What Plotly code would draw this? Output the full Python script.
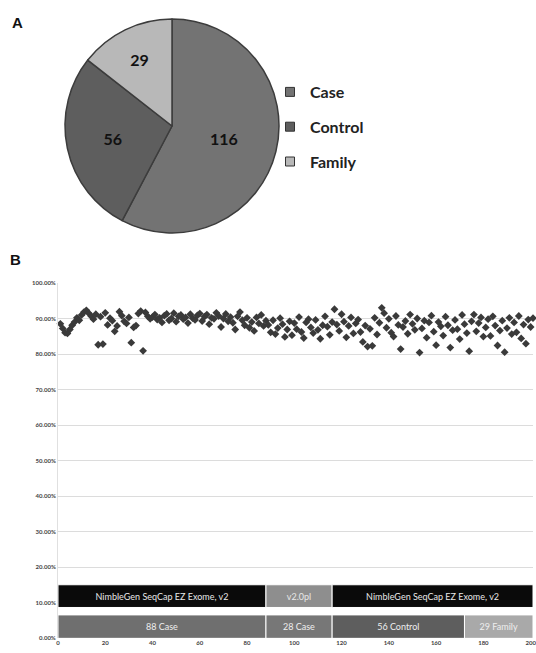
import plotly.graph_objects as go

W, H = 536, 653

# ---------------- Panel A data ----------------
pie_labels = ["Case", "Control", "Family"]
pie_values = [116, 56, 29]
pie_colors = ["#737373", "#5e5e5e", "#b8b8b8"]

# ---------------- Panel B data ----------------
coverage_pct = [
    88.5, 87.2, 86.0, 85.8, 86.9, 88.1, 89.0, 90.2, 89.5, 91.0,
    91.8, 92.3, 91.5, 90.7, 89.8, 91.2, 82.6, 90.5, 82.8, 91.6,
    88.2, 90.1, 89.4, 86.4, 87.9, 91.9, 90.8, 89.2, 88.6, 90.3,
    83.2, 87.5, 88.0, 91.4, 92.1, 80.9, 91.7, 90.6, 89.9, 90.4,
    91.1, 89.7, 90.2, 88.9, 90.8, 91.3, 89.5, 90.0, 91.5, 89.1,
    90.6, 91.0, 89.8, 90.3, 88.7, 91.2, 90.1, 89.6, 90.9, 91.4,
    89.3, 90.5, 91.1, 88.4, 90.2, 89.9, 91.6, 90.7, 87.6, 90.0,
    91.3, 89.2, 90.4, 88.8, 86.9, 90.6, 91.8, 89.5, 88.1, 90.2,
    87.4, 89.0, 86.5, 90.3, 88.6, 91.0, 87.9, 89.4,
    88.2, 86.1, 89.5, 85.6, 87.3, 90.1, 88.4, 84.8, 86.9, 89.2,
    85.3, 88.7, 87.0, 90.4, 86.2, 84.5, 88.9, 89.8, 87.5, 85.9,
    89.6, 86.8, 84.3, 88.1, 90.6, 87.7, 85.4, 89.0,
    92.6, 88.3, 86.5, 91.2, 89.1, 84.7, 87.9, 90.3, 85.8, 88.6,
    89.7, 86.2, 83.4, 88.0, 82.1, 87.1, 82.3, 90.2, 85.5, 88.8,
    93.0, 91.5, 87.4, 89.9, 86.0, 84.9, 90.7, 88.2, 81.4, 87.6,
    89.3, 85.7, 91.1, 88.5, 86.8, 90.0, 80.4, 87.2, 89.4, 84.6,
    88.9, 90.8, 86.3, 82.5, 89.0, 87.8, 85.2, 90.5, 88.1, 81.8,
    86.7, 89.6, 87.0, 84.2, 91.0, 88.4,
    85.9, 80.8, 89.2, 91.1, 86.4, 88.7, 90.3, 84.9, 87.5, 89.8,
    85.1, 90.6, 88.0, 82.4, 86.6, 89.4, 80.5, 87.3, 90.2, 85.6,
    88.9, 86.1, 90.7, 84.4, 88.3, 82.9, 89.7, 87.6, 90.1,
]
sample_index = list(range(1, len(coverage_pct) + 1))

design_labels = ["NimbleGen SeqCap EZ Exome, v2", "v2.0pl", "NimbleGen SeqCap EZ Exome, v2"]
design_counts = [88, 28, 85]
design_colors = ["#0a0a0a", "#8e8e8e", "#0a0a0a"]

group_labels = ["88 Case", "28 Case", "56 Control", "29 Family"]
group_counts = [88, 28, 56, 29]
group_colors = ["#6f6f6f", "#777777", "#5e5e5e", "#a9a9a9"]

x_ticks = [0, 20, 40, 60, 80, 100, 120, 140, 160, 180, 200]
y_ticks = [0.0, 0.1, 0.2, 0.3, 0.4, 0.5, 0.6, 0.7, 0.8, 0.9, 1.0]


def starts(counts):
    out, s = [], 0
    for c in counts:
        out.append(s)
        s += c
    return out


def px(x0, x1):
    return [x0 / W, x1 / W]


def py(top, bottom):
    return [1 - bottom / H, 1 - top / H]


fig = go.Figure()

# Pie (panel A)
fig.add_trace(go.Pie(
    labels=pie_labels, values=pie_values, sort=False, direction="clockwise",
    rotation=0, marker=dict(colors=pie_colors, line=dict(color="#3c3c3c", width=1.5)),
    textinfo="value", textposition="inside", insidetextorientation="horizontal",
    textfont=dict(family="Lato", size=16, color="#111111", weight="bold"),
    domain=dict(x=px(65, 279), y=py(19, 233)), showlegend=False, hoverinfo="label+value",
    automargin=False,
))

# Legend entries for the pie
for lab, col in zip(pie_labels, pie_colors):
    fig.add_trace(go.Scatter(
        x=[None], y=[None], mode="markers", name=lab, legendgroup=lab,
        marker=dict(symbol="square", size=9, color=col, line=dict(color="#333333", width=1)),
        showlegend=True,
    ))

# Scatter (panel B)
fig.add_trace(go.Scatter(
    x=sample_index, y=[v / 100 for v in coverage_pct], mode="markers",
    marker=dict(symbol="diamond", size=6, color="#3a3a3a"),
    showlegend=False, cliponaxis=False,
))

# Design bar (upper)
fig.add_trace(go.Bar(
    orientation="h", y=[0.118] * len(design_counts), x=design_counts,
    base=starts(design_counts), width=0.064,
    marker=dict(color=design_colors, line=dict(color="white", width=1)),
    text=design_labels, textposition="inside", insidetextanchor="middle",
    textfont=dict(family="Lato", size=9, color="#e8e8e8"), showlegend=False,
    cliponaxis=False,
))

# Group bar (lower)
fig.add_trace(go.Bar(
    orientation="h", y=[0.032] * len(group_counts), x=group_counts,
    base=starts(group_counts), width=0.066,
    marker=dict(color=group_colors, line=dict(color="white", width=1)),
    text=group_labels, textposition="inside", insidetextanchor="middle",
    textfont=dict(family="Lato", size=9, color="#eeeeee"), showlegend=False,
    cliponaxis=False,
))

fig.update_layout(
    width=W, height=H, margin=dict(l=0, r=0, t=0, b=0, autoexpand=False),
    paper_bgcolor="white", plot_bgcolor="white", barmode="overlay",
    font=dict(family="Lato", color="#222222"),
    legend=dict(x=270 / W, y=1 - 75 / H, xanchor="left", yanchor="top",
                font=dict(family="Lato", size=16, color="#222222", weight="bold"),
                tracegroupgap=11, bgcolor="rgba(0,0,0,0)", itemwidth=30),
    xaxis=dict(domain=px(58, 533), range=[0, 201], tickvals=x_ticks,
               showgrid=False, zeroline=False, showline=False, automargin=False,
               tickfont=dict(size=6, color="#444444", weight="bold"),
               ticklabeloverflow="allow", ticks="", fixedrange=True),
    yaxis=dict(domain=py(283, 638), range=[0, 1.0], tickvals=y_ticks,
               tickformat=".2%", showgrid=True, gridcolor="#dcdcdc", gridwidth=1,
               zeroline=False, showline=True, linecolor="#e0e0e0", automargin=False,
               tickfont=dict(size=6, color="#444444", weight="bold"),
               ticks="", ticklen=0, fixedrange=True),
    annotations=[
        dict(text="<b>A</b>", x=10 / W, y=1 - 12 / H, xref="paper", yref="paper",
             xanchor="left", yanchor="top", showarrow=False,
             font=dict(family="Liberation Sans", size=15, color="#111111")),
        dict(text="<b>B</b>", x=8 / W, y=1 - 249 / H, xref="paper", yref="paper",
             xanchor="left", yanchor="top", showarrow=False,
             font=dict(family="Liberation Sans", size=15, color="#111111")),
    ],
)

fig.write_html("out.html", config={"displayModeBar": False},
               post_script="document.body.style.margin='0';document.body.style.overflow='hidden';")
